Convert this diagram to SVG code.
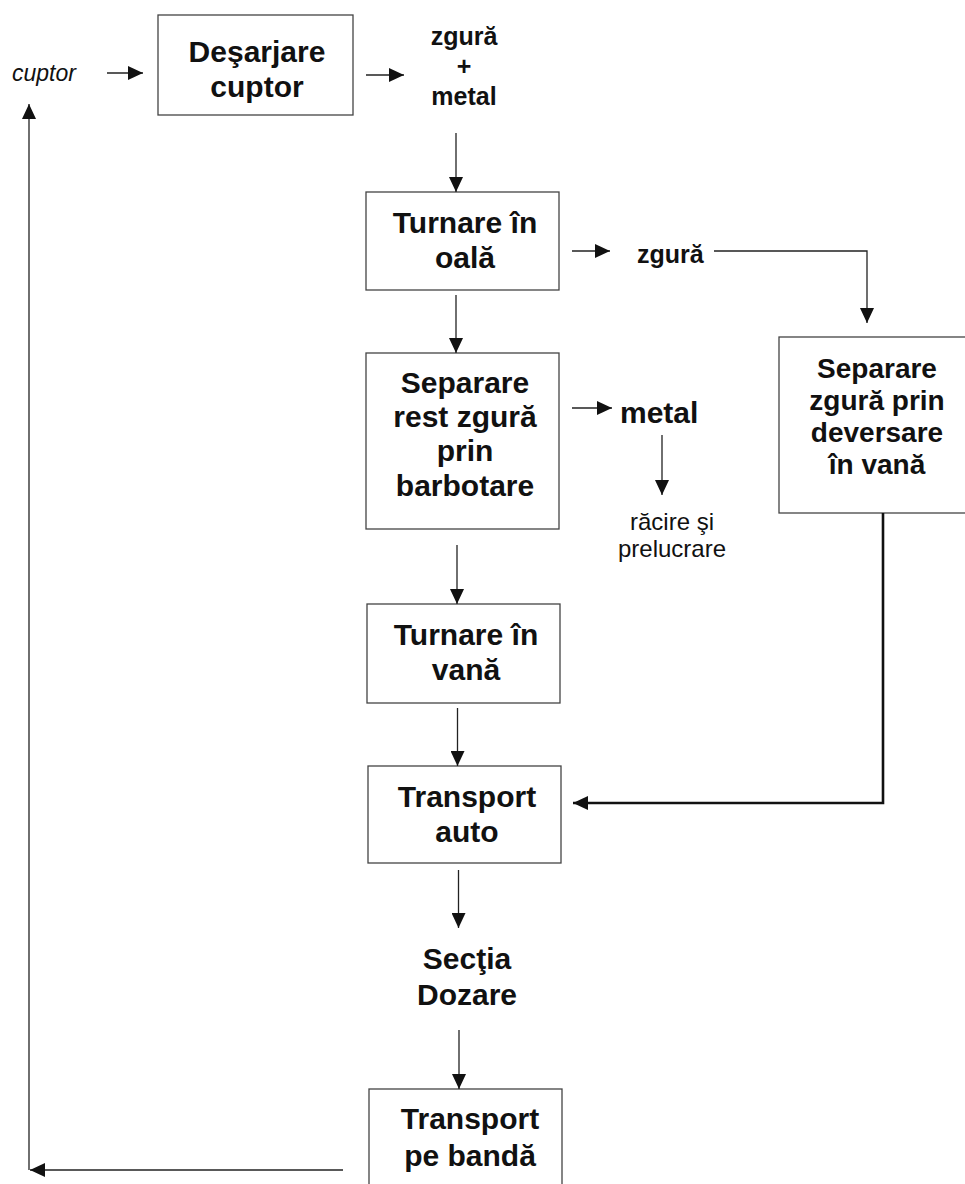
<svg xmlns="http://www.w3.org/2000/svg" width="965" height="1184" viewBox="0 0 965 1184">
<style>
.box{fill:#fff;stroke:#444;stroke-width:1.3}
.t{font-family:"Liberation Sans",Arial,sans-serif;font-weight:bold;font-size:30px;fill:#111;text-anchor:middle}
.tr{font-family:"Liberation Sans",Arial,sans-serif;font-weight:bold;font-size:28px;fill:#111;text-anchor:middle}
.s{font-family:"Liberation Sans",Arial,sans-serif;font-weight:bold;font-size:25px;fill:#111}
.m{font-family:"Liberation Sans",Arial,sans-serif;font-weight:bold;font-size:30px;fill:#111}
.n{font-family:"Liberation Sans",Arial,sans-serif;font-size:24px;fill:#111;text-anchor:middle}
.c{fill:none;stroke:#222;stroke-width:1.3;marker-end:url(#ah)}
.thick{stroke:#111;stroke-width:2.6}
</style>
<defs>
<marker id="ah" markerUnits="userSpaceOnUse" markerWidth="15" markerHeight="14" refX="15" refY="7" orient="auto">
<path d="M0,0 L15,7 L0,14 z" fill="#111"/>
</marker>
</defs>
<rect width="965" height="1184" fill="#fff"/>

<g id="cuptor-label">
<text x="12" y="81" font-family="Liberation Sans, Arial, sans-serif" font-style="italic" font-size="23" fill="#111">cuptor</text>
</g>
<g id="n-desarjare">
<rect class="box" x="158" y="15" width="195" height="100"/>
<text class="t" x="257" y="62">Deşarjare</text>
<text class="t" x="257" y="97">cuptor</text>
</g>
<g id="n-zgura-metal">
<text class="s" x="464" y="45" text-anchor="middle">zgură</text>
<text class="s" x="464" y="75" text-anchor="middle">+</text>
<text class="s" x="464" y="105" text-anchor="middle">metal</text>
</g>
<g id="n-turnare-oala">
<rect class="box" x="366" y="192" width="193" height="98"/>
<text class="t" x="465" y="233">Turnare în</text>
<text class="t" x="465" y="268">oală</text>
</g>
<g id="n-zgura">
<text class="s" x="637" y="263">zgură</text>
</g>
<g id="n-separare-deversare">
<rect class="box" x="779" y="337" width="190" height="176"/>
<text class="tr" x="877" y="378">Separare</text>
<text class="tr" x="877" y="410">zgură prin</text>
<text class="tr" x="877" y="442">deversare</text>
<text class="tr" x="877" y="474">în vană</text>
</g>
<g id="n-separare-barbotare">
<rect class="box" x="366" y="353" width="193" height="176"/>
<text class="t" x="465" y="393">Separare</text>
<text class="t" x="465" y="427">rest zgură</text>
<text class="t" x="465" y="461">prin</text>
<text class="t" x="465" y="496">barbotare</text>
</g>
<g id="n-metal">
<text class="m" x="620" y="423">metal</text>
</g>
<g id="n-racire">
<text class="n" x="672" y="530">răcire şi</text>
<text class="n" x="672" y="557">prelucrare</text>
</g>
<g id="n-turnare-vana">
<rect class="box" x="367" y="604" width="193" height="99"/>
<text class="t" x="466" y="645">Turnare în</text>
<text class="t" x="466" y="680">vană</text>
</g>
<g id="n-transport-auto">
<rect class="box" x="368" y="766" width="193" height="97"/>
<text class="t" x="467" y="807">Transport</text>
<text class="t" x="467" y="842">auto</text>
</g>
<g id="n-sectia">
<text class="t" x="467" y="969">Secţia</text>
<text class="t" x="467" y="1005">Dozare</text>
</g>
<g id="n-transport-banda">
<rect class="box" x="369" y="1089" width="193" height="110"/>
<text class="t" x="470" y="1129">Transport</text>
<text class="t" x="470" y="1166">pe bandă</text>
</g>

<g id="connectors">
<line class="c" x1="107" y1="73" x2="143" y2="73"/>
<line class="c" x1="366" y1="75" x2="404" y2="75"/>
<line class="c" x1="456" y1="133" x2="456" y2="192"/>
<line class="c" x1="572" y1="251" x2="610" y2="251"/>
<polyline class="c" points="714,251 867,251 867,323"/>
<line class="c" x1="456" y1="295" x2="456" y2="353"/>
<line class="c" x1="572" y1="408" x2="612" y2="408"/>
<line class="c" x1="662" y1="435" x2="662" y2="495"/>
<line class="c" x1="457" y1="545" x2="457" y2="604"/>
<line class="c" x1="457.5" y1="708" x2="457.5" y2="766"/>
<polyline class="c thick" points="883,513 883,803 573,803"/>
<line class="c" x1="458.5" y1="870" x2="458.5" y2="928"/>
<line class="c" x1="459" y1="1030" x2="459" y2="1089"/>
<line class="c" x1="343" y1="1170" x2="30" y2="1170"/>
<line class="c" x1="29" y1="1170" x2="29" y2="104"/>
</g>
</svg>
